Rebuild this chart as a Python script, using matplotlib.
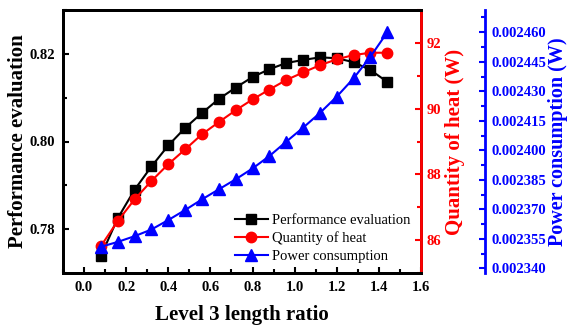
import matplotlib
matplotlib.use("Agg")
import matplotlib.pyplot as plt
from matplotlib.ticker import MultipleLocator, FormatStrFormatter

plt.rcParams["font.family"] = ["Liberation Serif", "DejaVu Serif"]
plt.rcParams["mathtext.default"] = "regular"

# level 3 length ratio
ratio = [0.08, 0.16, 0.24, 0.32, 0.40, 0.48, 0.56, 0.64, 0.72,
         0.80, 0.88, 0.96, 1.04, 1.12, 1.20, 1.28, 1.36, 1.44]
performance = [0.7739, 0.7825, 0.7890, 0.7943, 0.7991, 0.8031, 0.8065, 0.8097, 0.8123,
               0.8147, 0.8165, 0.8179, 0.8186, 0.8192, 0.8190, 0.8181, 0.8163, 0.8136]
heat = [85.82, 86.58, 87.24, 87.80, 88.31, 88.76, 89.22, 89.59, 89.95,
        90.28, 90.58, 90.87, 91.10, 91.32, 91.50, 91.63, 91.70, 91.70]
power = [0.0023510, 0.0023535, 0.0023564, 0.0023598, 0.0023646, 0.0023697, 0.0023751,
         0.0023802, 0.0023853, 0.0023908, 0.0023971, 0.0024044, 0.0024115, 0.0024190,
         0.0024273, 0.0024366, 0.0024476, 0.0024600]

fig = plt.figure(figsize=(5.69, 3.27), dpi=100)
ax = fig.add_axes([63 / 569, 1 - 273 / 327, 358 / 569, 263 / 327])
ax2 = ax.twinx()
ax3 = ax.twinx()
ax3.spines["right"].set_position(("axes", 1 + 64 / 358))

l1, = ax.plot(ratio, performance, color="black", marker="s", markersize=7, linewidth=1.5,
              label="Performance evaluation")
l2, = ax2.plot(ratio, heat, color="red", marker="o", markersize=7.5, linewidth=1.5,
               label="Quantity of heat")
l3, = ax3.plot(ratio, power, color="blue", marker="^", markersize=8, linewidth=1.5,
               label="Power consumption")

ax.set_xlim(-0.1, 1.6)
ax.set_ylim(0.770, 0.830)
ax2.set_ylim(85, 93)
ax3.set_ylim(0.0023377, 0.0024713)

ax.xaxis.set_major_locator(MultipleLocator(0.2))
ax.xaxis.set_minor_locator(MultipleLocator(0.1))
ax.xaxis.set_major_formatter(FormatStrFormatter("%.1f"))
ax.yaxis.set_major_locator(MultipleLocator(0.02))
ax.yaxis.set_minor_locator(MultipleLocator(0.01))
ax.yaxis.set_major_formatter(FormatStrFormatter("%.2f"))
ax2.yaxis.set_major_locator(MultipleLocator(2))
ax2.yaxis.set_minor_locator(MultipleLocator(1))
ax3.yaxis.set_major_locator(MultipleLocator(0.000015))
ax3.yaxis.set_minor_locator(MultipleLocator(0.0000075))
ax3.yaxis.set_major_formatter(FormatStrFormatter("%.6f"))

for a in (ax, ax2, ax3):
    for s in a.spines.values():
        s.set_linewidth(2)
ax2.spines["right"].set_color("red")
ax3.spines["right"].set_color("blue")

ax.tick_params(which="both", direction="in", width=1.5, top=False, right=False)
ax.tick_params(which="major", length=4, labelsize=10.5, pad=6)
ax.tick_params(which="minor", length=3)
ax2.tick_params(which="both", direction="in", width=1.5, color="red", labelcolor="red")
ax2.tick_params(which="major", length=4, labelsize=10.5, pad=4)
ax2.tick_params(which="minor", length=3)
ax3.tick_params(which="both", direction="in", width=1.5, color="blue", labelcolor="blue")
ax3.tick_params(which="major", length=4, labelsize=10.5, pad=5)
ax3.tick_params(which="minor", length=3)

for a in (ax, ax2, ax3):
    for t in a.get_xticklabels() + a.get_yticklabels():
        t.set_fontweight("bold")

ax.set_xlabel("Level 3 length ratio", fontsize=15, fontweight="bold", labelpad=8)
ax.set_ylabel("Performance evaluation", fontsize=15, fontweight="bold", labelpad=1)
ax2.set_ylabel("Quantity of heat (W)", fontsize=15, fontweight="bold", color="red", labelpad=3)
ax3.set_ylabel("Power consumption (W)", fontsize=14.5, fontweight="bold", color="blue", labelpad=1)

ax3.legend(handles=[l1, l2, l3], loc="lower right", bbox_to_anchor=(1.0, 0.0),
           frameon=False, fontsize=10.5, handlelength=2.3, handletextpad=0.3,
           labelspacing=0.3, borderaxespad=0.3)

fig.savefig("out.png", dpi=100)
